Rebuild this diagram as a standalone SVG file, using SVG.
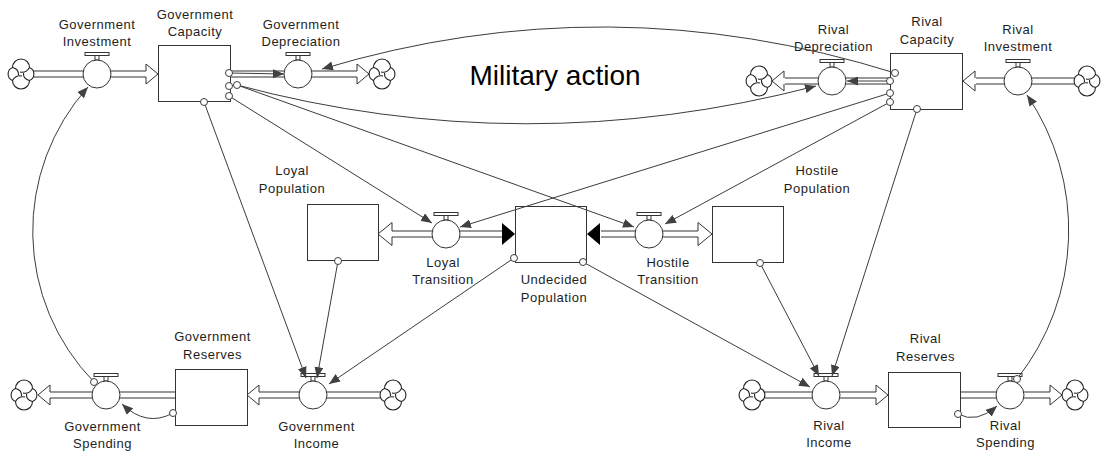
<svg xmlns="http://www.w3.org/2000/svg" width="1103" height="455" viewBox="0 0 1103 455">
<style>
.lbl{font-family:"Liberation Sans",Arial,sans-serif;font-size:13px;letter-spacing:0.5px;fill:#1e1e1e;text-anchor:middle}
.big{font-family:"Liberation Sans",Arial,sans-serif;font-size:28px;fill:#000;text-anchor:middle}
.box{fill:#fff;stroke:#333;stroke-width:1}
.po{fill:none;stroke:#333;stroke-width:7}
.pi{fill:none;stroke:#fff;stroke-width:5}
.ha{fill:#fff;stroke:#333;stroke-width:1}
.ba{fill:#000;stroke:none}
.vp{fill:#fff;stroke:#333;stroke-width:1}
.cl{fill:#fff;stroke:#222;stroke-width:1.1}
.cs{fill:none;stroke:#222;stroke-width:1.1}
.link{fill:none;stroke:#3c3c3c;stroke-width:1;marker-end:url(#ah)}
.org{fill:#fff;stroke:#3c3c3c;stroke-width:1}
</style>
<defs>
<marker id="ah" markerUnits="userSpaceOnUse" markerWidth="11" markerHeight="9" refX="11" refY="4.5" orient="auto"><path d="M0,0 L11,4.5 L0,9 Z" fill="#404040"/></marker>
<g id="cloud">
<path class="cl" d="M-8.5,-6.5 A8.5,8.5 0 0 1 8.5,-6.5 A7,7 0 0 1 8.5,6.5 A8.5,8.5 0 0 1 -8.5,6.5 A7,7 0 0 1 -8.5,-6.5 Z"/>
<path class="cs" d="M-8.5,-6.5 Q-2,-5 -2.5,1 M8.5,-6.5 Q5,-0.5 -1,-2 M8.5,6.5 Q2,5 2.5,-1 M-8.5,6.5 Q-5,0.5 1,2"/>
</g>
<g id="valve"><rect class="vp" x="-12" y="-21.5" width="24" height="3"/><rect class="vp" x="-2" y="-18.5" width="4" height="4.5"/><circle class="vp" r="14"/></g>
<path id="harrow" class="ha" d="M-12,-3 L-12,-10 L0,0 L-12,10 L-12,3"/>
<path id="harrowL" class="ha" d="M-14,-3 L-14,-11.5 L0,0 L-14,11.5 L-14,3"/>
<path id="barrow" class="ba" d="M-13,-11 L0,0 L-13,11 Z"/>
</defs>
<rect width="1103" height="455" fill="#fff"/>

<g id="pipes">
<path class="po" d="M33,74 H146 M231,74 H357 M785,81 H890 M976,81 H1075 M392,234 H502 M601,234 H698 M50,395 H175 M259,395 H381 M765,395 H876 M960,395 H1050"/>
<path class="pi" d="M33,74 H146 M231,74 H357 M785,81 H890 M976,81 H1075 M392,234 H502 M601,234 H698 M50,395 H175 M259,395 H381 M765,395 H876 M960,395 H1050"/>
<use href="#harrow" transform="translate(158,74)"/>
<use href="#harrow" transform="translate(369,74)"/>
<use href="#harrow" transform="translate(772,81) rotate(180)"/>
<use href="#harrow" transform="translate(963,81) rotate(180)"/>
<use href="#harrowL" transform="translate(378,234) rotate(180)"/>
<use href="#barrow" transform="translate(515,234)"/>
<use href="#barrow" transform="translate(587,234) rotate(180)"/>
<use href="#harrowL" transform="translate(712,234)"/>
<use href="#harrow" transform="translate(38,395) rotate(180)"/>
<use href="#harrow" transform="translate(247,395) rotate(180)"/>
<use href="#harrow" transform="translate(888,395)"/>
<use href="#harrow" transform="translate(1062,395)"/>
<use href="#cloud" transform="translate(21,74)"/>
<use href="#cloud" transform="translate(382,74)"/>
<use href="#cloud" transform="translate(759,81)"/>
<use href="#cloud" transform="translate(1087,81)"/>
<use href="#cloud" transform="translate(24,395)"/>
<use href="#cloud" transform="translate(393,395)"/>
<use href="#cloud" transform="translate(752,395)"/>
<use href="#cloud" transform="translate(1075,395)"/>
</g>

<g id="government-capacity"><rect class="box" x="158.5" y="45.5" width="72" height="56"/><text class="lbl"><tspan x="195" y="18.5">Government</tspan><tspan x="195" y="36">Capacity</tspan></text></g>
<g id="rival-capacity"><rect class="box" x="890.5" y="53.5" width="72" height="56"/><text class="lbl"><tspan x="927" y="25.5">Rival</tspan><tspan x="927" y="43.5">Capacity</tspan></text></g>
<g id="loyal-population"><rect class="box" x="307.5" y="204.5" width="71" height="56"/><text class="lbl"><tspan x="292" y="175">Loyal</tspan><tspan x="292" y="193">Population</tspan></text></g>
<g id="undecided-population"><rect class="box" x="515.5" y="206.5" width="71" height="56"/><text class="lbl"><tspan x="554" y="284">Undecided</tspan><tspan x="554" y="302">Population</tspan></text></g>
<g id="hostile-population"><rect class="box" x="712.5" y="206.5" width="71" height="56"/><text class="lbl"><tspan x="817" y="175">Hostile</tspan><tspan x="817" y="193">Population</tspan></text></g>
<g id="government-reserves"><rect class="box" x="175.5" y="369.5" width="72" height="56"/><text class="lbl"><tspan x="212.5" y="340.5">Government</tspan><tspan x="212.5" y="359">Reserves</tspan></text></g>
<g id="rival-reserves"><rect class="box" x="888.5" y="372.5" width="72" height="55"/><text class="lbl"><tspan x="925.5" y="343">Rival</tspan><tspan x="925.5" y="361">Reserves</tspan></text></g>

<g id="government-investment"><use href="#valve" transform="translate(97,74)"/><text class="lbl"><tspan x="97" y="28.5">Government</tspan><tspan x="97" y="46">Investment</tspan></text></g>
<g id="government-depreciation"><use href="#valve" transform="translate(298,74)"/><text class="lbl"><tspan x="301" y="28.5">Government</tspan><tspan x="301" y="46">Depreciation</tspan></text></g>
<g id="rival-depreciation"><use href="#valve" transform="translate(832,81)"/><text class="lbl"><tspan x="833.5" y="33.5">Rival</tspan><tspan x="833.5" y="51">Depreciation</tspan></text></g>
<g id="rival-investment"><use href="#valve" transform="translate(1018,81)"/><text class="lbl"><tspan x="1018" y="33.5">Rival</tspan><tspan x="1018" y="51">Investment</tspan></text></g>
<g id="loyal-transition"><use href="#valve" transform="translate(446,234)"/><text class="lbl"><tspan x="443" y="267">Loyal</tspan><tspan x="443" y="284">Transition</tspan></text></g>
<g id="hostile-transition"><use href="#valve" transform="translate(649,234)"/><text class="lbl"><tspan x="668" y="267">Hostile</tspan><tspan x="668" y="284">Transition</tspan></text></g>
<g id="government-spending"><use href="#valve" transform="translate(106,395)"/><text class="lbl"><tspan x="102.5" y="430.5">Government</tspan><tspan x="102.5" y="448">Spending</tspan></text></g>
<g id="government-income"><use href="#valve" transform="translate(313,395)"/><text class="lbl"><tspan x="316.5" y="430.5">Government</tspan><tspan x="316.5" y="448">Income</tspan></text></g>
<g id="rival-income"><use href="#valve" transform="translate(826,395)"/><text class="lbl"><tspan x="829" y="430">Rival</tspan><tspan x="829" y="447">Income</tspan></text></g>
<g id="rival-spending"><use href="#valve" transform="translate(1010,395)"/><text class="lbl"><tspan x="1005.5" y="430">Rival</tspan><tspan x="1005.5" y="447">Spending</tspan></text></g>

<g id="military-action"><text class="big" x="555" y="85">Military action</text></g>

<g id="links">
<path class="link" d="M94,382 A216,216 0 0 1 88,87"/>
<path class="link" d="M1017,379 A240,240 0 0 0 1027,95"/>
<path class="link" d="M173,413 Q146.5,427.5 122,404"/>
<path class="link" d="M958,414 Q976.5,424 997,406"/>
<path class="link" d="M204,102 L306,378"/>
<path class="link" d="M338,261 L317,378"/>
<path class="link" d="M514,258 L329,384"/>
<path class="link" d="M229,73 L284,74"/>
<path class="link" d="M237,85 Q524,162 816,86"/>
<path class="link" d="M237,85 L634,227"/>
<path class="link" d="M229,96 L432,223"/>
<path class="link" d="M895,73 Q608,-17 322,69"/>
<path class="link" d="M890,81 L847,81"/>
<path class="link" d="M890,93 L460,227"/>
<path class="link" d="M890,102 L665,224"/>
<path class="link" d="M917,109 L832,376"/>
<path class="link" d="M760,263 L819,376"/>
<path class="link" d="M583,262 L810,387"/>
<circle class="org" cx="94" cy="382" r="3.5"/>
<circle class="org" cx="1017" cy="379" r="3.5"/>
<circle class="org" cx="173" cy="413" r="3.5"/>
<circle class="org" cx="958" cy="414" r="3.5"/>
<circle class="org" cx="204" cy="102" r="3.5"/>
<circle class="org" cx="338" cy="261" r="3.5"/>
<circle class="org" cx="514" cy="258" r="3.5"/>
<circle class="org" cx="583" cy="262" r="3.5"/>
<circle class="org" cx="760" cy="263" r="3.5"/>
<circle class="org" cx="229" cy="73" r="3.5"/>
<circle class="org" cx="229" cy="86" r="3.5"/>
<circle class="org" cx="237" cy="85" r="3.5"/>
<circle class="org" cx="229" cy="96" r="3.5"/>
<circle class="org" cx="895" cy="73" r="3.5"/>
<circle class="org" cx="890" cy="81" r="3.5"/>
<circle class="org" cx="890" cy="93" r="3.5"/>
<circle class="org" cx="890" cy="102" r="3.5"/>
<circle class="org" cx="917" cy="109" r="3.5"/>
</g>
</svg>
